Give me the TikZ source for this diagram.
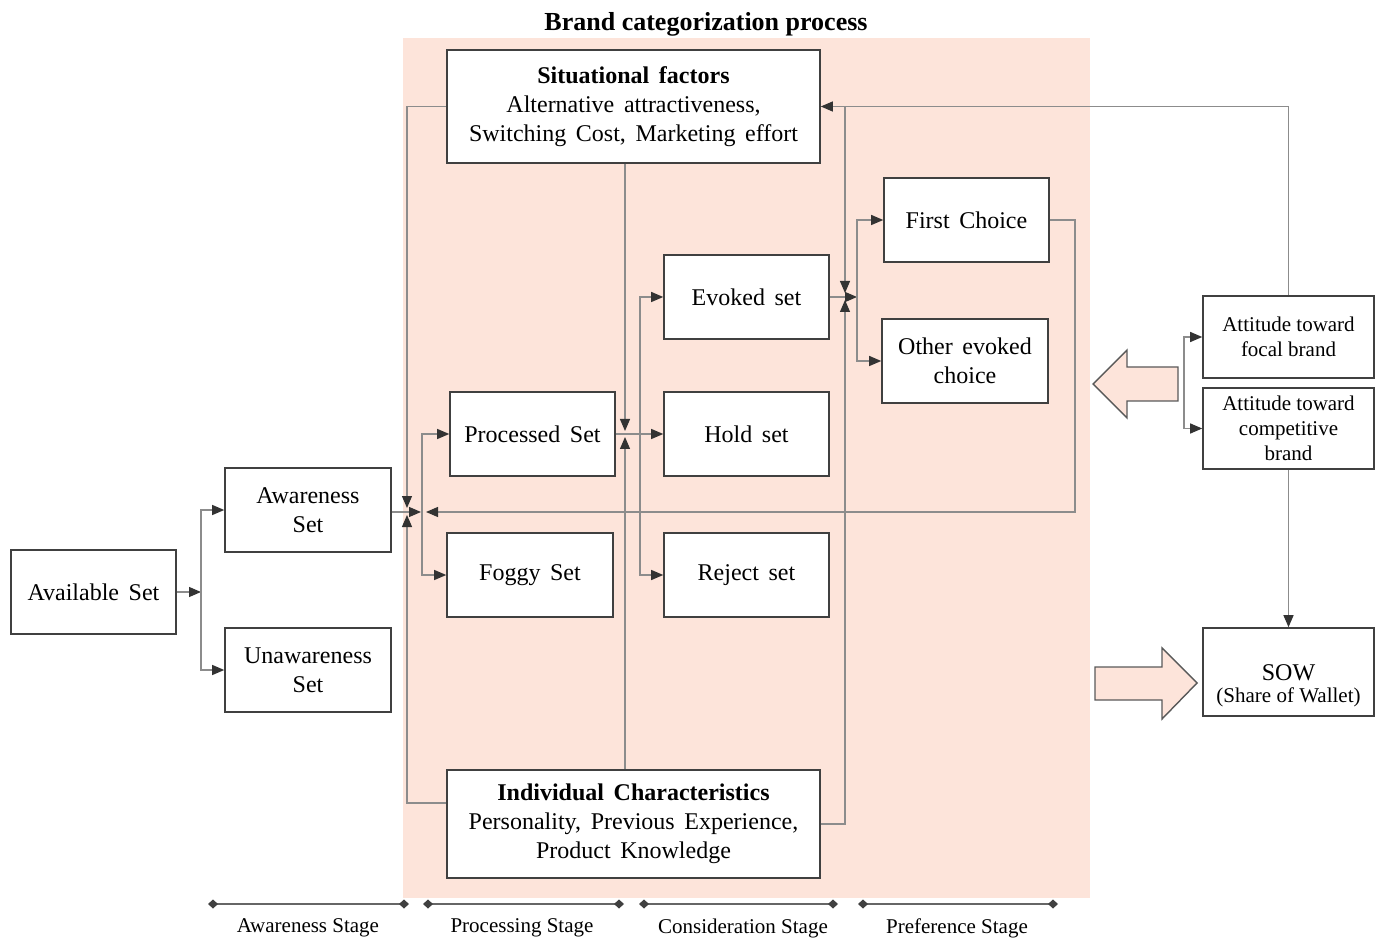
\documentclass[tikz,border=0pt]{standalone}
\usepackage{fontspec}
\setmainfont{Liberation Serif}
\usetikzlibrary{arrows.meta,positioning,calc}
\definecolor{bgpink}{RGB}{253,228,218}
\definecolor{boxline}{RGB}{64,64,64}
\definecolor{linkgray}{RGB}{140,140,140}
\newcommand{\boxfont}{\fontsize{12}{14.5}\selectfont\spaceskip 0.4em\relax}

\begin{document}
\begin{tikzpicture}[
  x=0.5pt, y=-0.5pt,
  >={Triangle[length=6pt,width=5pt,color=black!80]},
  box/.style={draw=boxline, line width=0.8pt, fill=white, align=center, inner sep=2pt,
    font=\boxfont},
  setbox/.style={box, minimum width=82.5pt, minimum height=42pt},
  bigbox/.style={box, minimum width=186.5pt},
  attbox/.style={box, minimum width=85.5pt, font=\fontsize{10.5}{12.5}\selectfont},
  link/.style={draw=linkgray, line width=0.6pt},
  hint/.style={draw=black!65, line width=0.7pt, fill=bgpink, line join=miter},
  stageline/.style={draw=black!60, line width=0.6pt,
    {Diamond[length=5pt,width=4.5pt,color=black!75]}-{Diamond[length=5pt,width=4.5pt,color=black!75]}},
  stagelbl/.style={font=\fontsize{10.5}{12}\selectfont}]

\useasboundingbox (0,0) rectangle (1385,940);

% stage area
\fill[bgpink] (403,38) rectangle (1090,898);
\node[font=\bfseries\fontsize{13}{15}\selectfont] (title) at (706,24) {Brand categorization process};

% sets
\node[setbox] (avail) at (93.5,592) {Available Set};
\node[setbox, minimum width=83pt] (aware) at (308,510) {Awareness\\Set};
\node[setbox, minimum width=83pt] (unaware) at (308,670) {Unawareness\\Set};
\node[setbox] (proc) at (532.5,434) {Processed Set};
\node[setbox, minimum width=83pt] (foggy) at (530,575) {Foggy Set};
\node[setbox] (evoked) at (746.5,297) {Evoked set};
\node[setbox] (hold) at (746.5,434) {Hold set};
\node[setbox] (reject) at (746.5,575) {Reject set};
\node[setbox] (first) at (966.5,220) {First Choice};
\node[setbox, minimum width=83pt] (other) at (965,361) {Other evoked\\choice};

\node[bigbox, minimum height=56.5pt] (situ) at (633.5,106.5)
  {\textbf{Situational factors}\\Alternative attractiveness,\\Switching Cost, Marketing effort};
\node[bigbox, minimum height=54pt] (indiv) at (633.5,824)
  {\textbf{Individual Characteristics}\\Personality, Previous Experience,\\Product Knowledge};

\node[attbox, minimum height=41pt] (attfocal) at (1288.5,337) {Attitude toward\\focal brand};
\node[attbox, minimum height=40.5pt] (attcomp) at (1288.5,428.5) {Attitude toward\\competitive\\brand};
\node[box, minimum width=85.5pt, minimum height=44pt, font=\fontsize{12}{13}\selectfont] (sow) at (1288.5,672)
  {\rule{0pt}{22pt}SOW\\[-2pt]{\fontsize{10.5}{12}\selectfont(Share of Wallet)}};

% block arrows
\draw[hint] (1093,384) -- (1127,350) -- (1127,367) -- (1178,367) -- (1178,401)
  -- (1127,401) -- (1127,418) -- cycle;
\draw[hint] (1197,683) -- (1162,648) -- (1162,667) -- (1095,667) -- (1095,700)
  -- (1162,700) -- (1162,719) -- cycle;

% awareness stage
\coordinate (ja) at (201,592);
\draw[link,->] (avail.east) -- (ja);
\draw[link,->] (ja) |- (aware.west);
\draw[link,->] (ja) |- (unaware.west);

% situational / individual -> awareness
\coordinate (jb1) at (407,508);
\coordinate (jb2) at (407,515);
\draw[link,->] (situ.west) -| (jb1);
\draw[link,->] ($(indiv.west)+(0,-21)$) -| (jb2);

% awareness -> processing
\coordinate (jc1) at (421,512);
\coordinate (jc2) at (426,512);
\coordinate (jd) at (422,512);
\draw[link,->] (aware.east |- jc1) -- (jc1);
\draw[link,->] (jd) |- (proc.west);
\draw[link,->] (jd) |- (foggy.west);
\coordinate (fb) at (1075,512);
\draw[link,->] (first.east) -| (fb) -- (jc2);

% processing -> consideration
\coordinate (m1) at (625,431);
\coordinate (m2) at (625,437);
\draw[link,->] (situ.south -| m1) -- (m1);
\draw[link,->] (indiv.north -| m2) -- (m2);
\draw[link,->] (proc.east) -- (hold.west);
\coordinate (k) at (640,434);
\draw[link,->] (k) |- (evoked.west);
\draw[link,->] (k) |- (reject.west);

% consideration -> preference
\coordinate (q1) at (845,293);
\coordinate (q2) at (845,300);
\draw[link,->] (situ.east -| q1) -- (q1);
\draw[link,->] (indiv.east) -| (q2);
\coordinate (p) at (857,297);
\draw[link,->] (evoked.east) -- (p);
\draw[link,->] (p) |- (first.west);
\draw[link,->] (p) |- (other.west);

% attitudes
\draw[link,->] (attfocal.north) |- (situ.east);
\coordinate (r) at (1184,383);
\draw[link,->] (r) |- (attfocal.west);
\draw[link,->] (r) |- (attcomp.west);
\draw[link,->] (attcomp.south) -- (sow.north);

% stages
\foreach \xa/\xb/\xc/\txt/\nm in {208/409/308/Awareness Stage/stA, 423/624/522/Processing Stage/stB,
    639/838/743/Consideration Stage/stC, 858/1058/957/Preference Stage/stD} {
  \draw[stageline] (\xa,904) -- (\xb,904);
  \node[stagelbl] (\nm) at (\xc,928) {\txt};
}

\end{tikzpicture}
\end{document}
